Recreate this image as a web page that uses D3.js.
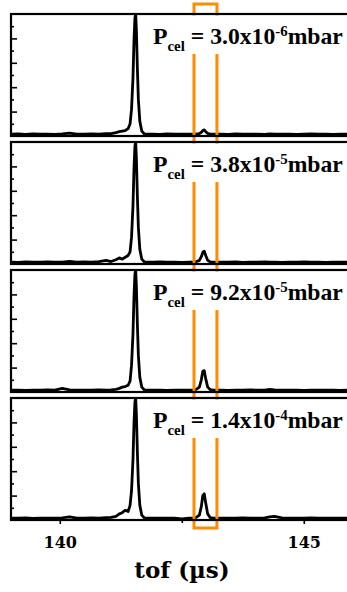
<!DOCTYPE html>
<html><head><meta charset="utf-8">
<script src="https://cdn.jsdelivr.net/npm/d3@7"></script>
<style>html,body{margin:0;padding:0;background:#fff;overflow:hidden}</style>
</head><body>
<svg id="chart" width="347" height="592"></svg>
<script>
// ---- data ----
const tof = [139.00,139.15,139.30,139.45,139.60,139.75,139.90,140.05,140.20,140.35,140.50,140.65,140.80,140.95,141.05,141.15,141.22,141.28,141.34,141.40,141.44,141.47,141.50,141.52,141.54,141.555,141.57,141.59,141.61,141.64,141.68,141.73,141.80,141.90,142.05,142.20,142.35,142.50,142.65,142.78,142.86,142.90,142.93,142.96,142.99,143.03,143.08,143.15,143.30,143.45,143.60,143.75,143.90,144.05,144.20,144.30,144.40,144.55,144.70,144.85,145.00,145.15,145.30,145.45,145.60,145.75,145.90,146.00];
const signal1 = [0.015,0.018,0.014,0.017,0.015,0.016,0.014,0.018,0.024,0.016,0.015,0.017,0.016,0.020,0.020,0.028,0.035,0.040,0.045,0.060,0.100,0.220,0.480,0.780,0.970,1.000,0.860,0.550,0.300,0.120,0.040,0.018,0.015,0.016,0.014,0.018,0.015,0.016,0.015,0.016,0.020,0.030,0.045,0.050,0.035,0.022,0.016,0.015,0.016,0.014,0.017,0.015,0.016,0.015,0.014,0.018,0.016,0.015,0.016,0.014,0.015,0.017,0.015,0.016,0.014,0.015,0.016,0.015];
const signal2 = [0.016,0.014,0.017,0.015,0.016,0.018,0.015,0.016,0.022,0.015,0.017,0.016,0.020,0.030,0.020,0.035,0.050,0.040,0.055,0.070,0.100,0.220,0.480,0.780,0.970,1.000,0.860,0.550,0.300,0.120,0.040,0.018,0.016,0.015,0.017,0.015,0.016,0.014,0.016,0.017,0.030,0.060,0.095,0.105,0.070,0.030,0.018,0.015,0.016,0.015,0.017,0.014,0.016,0.015,0.017,0.016,0.015,0.014,0.016,0.015,0.017,0.015,0.016,0.014,0.015,0.016,0.015,0.016];
const signal3 = [0.015,0.016,0.014,0.016,0.015,0.017,0.015,0.030,0.018,0.015,0.016,0.015,0.017,0.016,0.018,0.022,0.030,0.040,0.045,0.055,0.090,0.220,0.480,0.780,0.970,1.000,0.860,0.550,0.300,0.120,0.040,0.018,0.015,0.016,0.015,0.014,0.016,0.015,0.016,0.018,0.040,0.100,0.170,0.175,0.110,0.040,0.020,0.015,0.016,0.014,0.016,0.015,0.017,0.015,0.016,0.022,0.018,0.015,0.016,0.015,0.014,0.016,0.015,0.016,0.015,0.014,0.016,0.015];
const signal4 = [0.016,0.015,0.017,0.014,0.016,0.015,0.016,0.018,0.026,0.016,0.015,0.017,0.016,0.020,0.022,0.030,0.050,0.060,0.080,0.070,0.120,0.240,0.500,0.790,0.970,1.000,0.860,0.550,0.300,0.120,0.040,0.018,0.016,0.015,0.016,0.015,0.016,0.010,0.016,0.018,0.040,0.110,0.200,0.215,0.140,0.050,0.020,0.016,0.015,0.016,0.015,0.017,0.016,0.015,0.018,0.025,0.030,0.017,0.015,0.016,0.015,0.017,0.016,0.015,0.016,0.015,0.016,0.015];
const signals = [signal1, signal2, signal3, signal4];
const pressureMantissa = ["3.0", "3.8", "9.2", "1.4"];
const pressureExponent = ["-6", "-5", "-5", "-4"];
const xTicksMajor = [140, 145];
const xTicksMinor = [142.5];
const yTicksMajor = [0.2, 0.4, 0.6, 0.8];
const yTicksMinor = [0.1, 0.3, 0.5, 0.7, 0.9];
const gateWindow = [142.75, 143.22];
const xDomain = [139, 146];
const xLabel = "tof (µs)";

// ---- layout ----
const left = 11, right = 352.6;
const panelTop0 = 14, panelH = 122, panelStep = 128;
const orange = "#ff8c00";
const labelFont = "'Liberation Serif', serif";
const tickFont = "'DejaVu Serif', serif";
const labelX = 153, labelW = 190;

const svg = d3.select("#chart");
const x = d3.scaleLinear().domain(xDomain).range([left, right]);

const panels = [];
signals.forEach((sig, k) => {
  const top = panelTop0 + k * panelStep;
  const y = d3.scaleLinear().domain([0, 1]).range([top + panelH, top]);
  panels.push({top, y});
  const g = svg.append("g");
  g.append("clipPath").attr("id", "clip" + k).append("rect")
    .attr("x", left).attr("y", top - 1).attr("width", right - left).attr("height", panelH + 2);
  g.append("path")
    .datum(sig)
    .attr("clip-path", `url(#clip${k})`)
    .attr("fill", "none").attr("stroke", "#000").attr("stroke-width", 2.8)
    .attr("stroke-linejoin", "round")
    .attr("d", d3.line().x((d, i) => x(tof[i])).y(d => y(d)));
  const yMaj = d3.axisRight(y).tickValues(yTicksMajor).tickSize(6).tickFormat("");
  const yMin = d3.axisRight(y).tickValues(yTicksMinor).tickSize(3).tickFormat("");
  [yMaj, yMin].forEach(ax => {
    const a = g.append("g").attr("transform", `translate(${left},0)`).call(ax);
    a.select(".domain").remove();
    a.selectAll("line").attr("stroke", "#000").attr("stroke-width", 1.6);
  });
});

// orange gate box
const oTop = 4, oBot = 528;
svg.append("path")
  .attr("fill", "none").attr("stroke", orange).attr("stroke-width", 3)
  .attr("d", `M${x(gateWindow[0])},${oBot}V${oTop}H${x(gateWindow[1])}V${oBot}Z`);

// panel frames + labels
panels.forEach((p, k) => {
  svg.append("rect")
    .attr("x", 150).attr("y", p.top + 1.5).attr("width", 200).attr("height", 38.5)
    .attr("fill", "#fff");
  const t = svg.append("text")
    .attr("x", 0).attr("y", 0)
    .attr("font-family", labelFont).attr("font-weight", "bold").attr("font-size", 23)
    .attr("fill", "#000");
  t.append("tspan").text("P");
  t.append("tspan").attr("font-size", 14.5).attr("dy", 7).text("cel");
  t.append("tspan").attr("dy", -7).text(" = " + pressureMantissa[k] + "x10");
  t.append("tspan").attr("font-size", 14.5).attr("dy", -7.5).text(pressureExponent[k]);
  t.append("tspan").attr("dy", 7.5).text("mbar");
  const w = t.node().getBBox().width;
  const s = w > 0 ? labelW / w : 1;
  t.attr("transform", `translate(${labelX},${p.top + 29.5}) scale(${s},1)`);

  svg.append("rect")
    .attr("x", left).attr("y", p.top).attr("width", right - left).attr("height", panelH)
    .attr("fill", "none").attr("stroke", "#000").attr("stroke-width", 2.2);
});

// bottom x axis
const bottom = panels[3].top + panelH;
const xMaj = d3.axisBottom(x).tickValues(xTicksMajor).tickSize(4).tickPadding(13).tickFormat(d3.format("d"));
const xMin = d3.axisBottom(x).tickValues(xTicksMinor).tickSize(3).tickFormat("");
const ax1 = svg.append("g").attr("transform", `translate(0,${bottom})`).call(xMaj);
const ax2 = svg.append("g").attr("transform", `translate(0,${bottom})`).call(xMin);
[ax1, ax2].forEach(a => {
  a.select(".domain").remove();
  a.selectAll("line").attr("stroke", "#000").attr("stroke-width", 1.6);
});
ax1.selectAll("text").attr("font-family", tickFont).attr("font-weight", "bold")
  .attr("font-size", 16).attr("fill", "#000");

svg.append("text")
  .attr("x", 182).attr("y", 578).attr("text-anchor", "middle")
  .attr("font-family", tickFont).attr("font-weight", "bold").attr("font-size", 23)
  .attr("fill", "#000").text(xLabel);
</script>
</body></html>
